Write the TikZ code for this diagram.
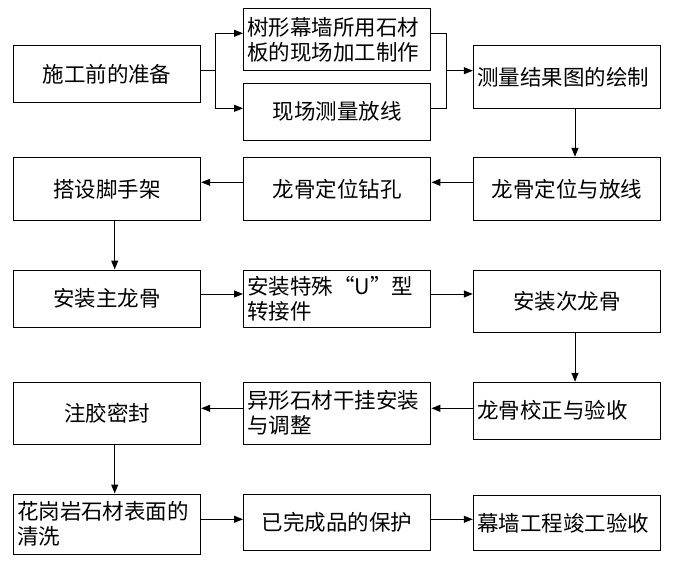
\documentclass[tikz,border=0pt]{standalone}
\usepackage{fontspec}
\newfontfamily\cjk{Noto Sans CJK SC}
\usetikzlibrary{arrows.meta}
\begin{document}
\begin{tikzpicture}[x=1pt,y=-1pt,
  box/.style={draw,line width=1pt,minimum width=187.4pt,inner sep=3pt,
    font=\cjk\fontsize{21.5}{25}\selectfont},
  leftbox/.style={box,text width=180pt,align=left},
  arr/.style={line width=1pt,-{Triangle[length=9pt,width=7pt]}},
  ln/.style={line width=1pt}]
\fill[white] (0,0) rectangle (673,570);
\useasboundingbox (0,0) rectangle (673,570);
% row 1
\node[box,minimum height=56.6pt] (A) at (107,74) {施工前的准备};
\node[leftbox,minimum height=62.4pt] (B) at (337.2,39.5) {树形幕墙所用石材\\板的现场加工制作};
\node[box,minimum height=56.7pt] (C) at (337.2,111.65) {现场测量放线};
\node[leftbox,minimum height=62.6pt] (D) at (567,77) {测量结果图的绘制};
% row 2
\node[box,minimum height=63.4pt] (E) at (567,189) {龙骨定位与放线};
\node[box,minimum height=63.4pt] (F) at (337.2,189) {龙骨定位钻孔};
\node[box,minimum height=63.4pt] (G) at (107,189) {搭设脚手架};
% row 3
\node[box,minimum height=57.3pt] (H) at (107,298.65) {安装主龙骨};
\node[leftbox,minimum height=57.3pt] (I) at (337.2,298.65) {安装特殊“U”型\\转接件};
\node[box,minimum height=62.3pt] (J) at (567,301.15) {安装次龙骨};
% row 4
\node[leftbox,minimum height=56.7pt] (K) at (567,410.65) {龙骨校正与验收};
\node[leftbox,minimum height=61.7pt] (L) at (337.2,413.15) {异形石材干挂安装\\与调整};
\node[box,minimum height=61.7pt] (M) at (107,413.15) {注胶密封};
% row 5
\node[leftbox,minimum height=60pt] (N) at (107,524) {花岗岩石材表面的\\清洗};
\node[box,minimum height=56.7pt] (O) at (337.2,522.35) {已完成品的保护};
\node[leftbox,minimum height=55.7pt] (P) at (567,522.85) {幕墙工程竣工验收};
% bus left
\coordinate (a1) at ([yshift=3.3pt]A.east);
\coordinate (b1) at ([yshift=6.2pt]B.west);
\coordinate (c1) at ([yshift=3.35pt]C.west);
\draw[ln] (a1) -- ++(14.3,0) coordinate (s1);
\draw[arr] (s1) |- (b1);
\draw[arr] (s1) |- (c1);
% bus right
\coordinate (b2) at ([yshift=6.2pt]B.east);
\coordinate (c2) at ([yshift=3.35pt]C.east);
\coordinate (d2) at ([yshift=6.3pt]D.west);
\draw[ln] (b2) -- ++(15,0) coordinate (s2) |- (c2);
\draw[arr] (s2 |- d2) -- (d2);
% D -> E
\coordinate (d1) at ([xshift=8pt]D.south);
\draw[arr] (d1) -- (d1 |- E.north);
% E -> F -> G
\coordinate (e1) at ([yshift=6.7pt]E.west);
\draw[arr] (e1) -- (e1 -| F.east);
\draw[arr] (e1 -| F.west) -- (e1 -| G.east);
% G -> H
\coordinate (g1) at ([xshift=7.7pt]G.south);
\draw[arr] (g1) -- (g1 |- H.north);
% H -> I -> J
\coordinate (h1) at ([yshift=4.65pt]H.east);
\draw[arr] (h1) -- (h1 -| I.west);
\draw[arr] (h1 -| I.east) -- (h1 -| J.west);
% J -> K
\coordinate (j1) at ([xshift=8pt]J.south);
\draw[arr] (j1) -- (j1 |- K.north);
% K -> L -> M
\coordinate (k1) at ([yshift=2.35pt]K.west);
\draw[arr] (k1) -- (k1 -| L.east);
\draw[arr] (k1 -| L.west) -- (k1 -| M.east);
% M -> N
\coordinate (m1) at ([xshift=7.7pt]M.south);
\draw[arr] (m1) -- (m1 |- N.north);
% N -> O -> P
\coordinate (n1) at ([yshift=4.7pt]N.east);
\draw[arr] (n1) -- (n1 -| O.west);
\draw[arr] (n1 -| O.east) -- (n1 -| P.west);
\end{tikzpicture}
\end{document}
